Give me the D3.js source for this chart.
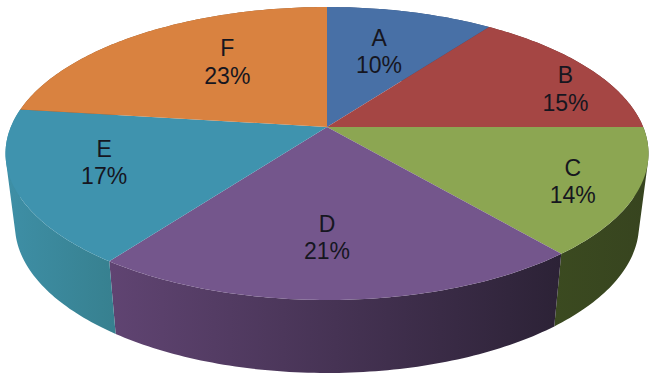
<!DOCTYPE html>
<html>
<head>
<meta charset="utf-8">
<script src="https://d3js.org/d3.v7.min.js"></script>
<style>
html, body { margin: 0; padding: 0; background: #fff; }
svg { display: block; }
text { font-family: "Liberation Sans", Arial, sans-serif; font-size: 23px; fill: #16161f; text-anchor: middle; }
</style>
</head>
<body>
<svg id="chart" width="651" height="377"></svg>
<script>
// chart values
var categories = ["A", "B", "C", "D", "E", "F"];
var shares = [10, 15, 14, 21, 17, 23];

// top face colours and the shaded side colours (left to right)
var topColors = ["#4870a6", "#a54644", "#8ca652", "#74568c", "#3f93ae", "#d98240"];
var wallColors = [
    ["#33507a", "#33507a"],
    ["#6e2f2d", "#6e2f2d"],
    ["#3b4a20", "#37441f"],
    ["#604472", "#2c2236"],
    ["#3e8fa6", "#37808f"],
    ["#8f5629", "#8f5629"]
];
// how far each label sits from the slice's centroid
var labelNudgeX = [-9, 52, 34, -8, -9, 34];
var labelNudgeY = [3, -1, 4, -9, -11.5, -3];

var svg = d3.select("#chart");

var pie = d3.pie().sort(null).value(function(d) { return d; });
var slices = pie(shares);

// the pie sits on a table seen in perspective, so the hub is above the ellipse middle
var hubV = -0.181, hubU = 0.0047;
var squash = Math.sqrt(1 - hubV * hubV);

var xTop = d3.scaleLinear().domain([-1, 1]).range([4, 647]);
var yTop = d3.scaleLinear().domain([-1, 1]).range([7, 300]);
var xBottom = d3.scaleLinear().domain([-1, 1]).range([13.5, 637.5]);
var yBottom = d3.scaleLinear().domain([-1, 1]).range([77, 373]);

function project(angle, r) {
    var px = Math.sin(angle) * r;
    var py = -Math.cos(angle) * r;
    var d = 1 + hubV * py;
    return [px * squash / d + hubU, (py + hubV) / d];
}

function rimPoints(s, xs, ys) {
    var pts = [];
    var n = Math.ceil((s.endAngle - s.startAngle) * 60);
    for (var i = 0; i <= n; i++) {
        var p = project(s.startAngle + (s.endAngle - s.startAngle) * i / n, 1);
        pts.push([xs(p[0]), ys(p[1])]);
    }
    return pts;
}

var line = d3.line();
var defs = svg.append("defs");

//side walls first, the top faces get painted over them
slices.forEach(function(s, i) {
    var upper = rimPoints(s, xTop, yTop);
    var lower = rimPoints(s, xBottom, yBottom);
    var xs = upper.concat(lower).map(function(p) { return p[0]; });
    var grad = defs.append("linearGradient")
        .attr("id", "wall" + i)
        .attr("gradientUnits", "userSpaceOnUse")
        .attr("x1", d3.min(xs)).attr("x2", d3.max(xs))
        .attr("y1", 0).attr("y2", 0);
    grad.append("stop").attr("offset", 0).attr("stop-color", wallColors[i][0]);
    grad.append("stop").attr("offset", 1).attr("stop-color", wallColors[i][1]);

    // the rims cross near the left and right extremes, so join them strip by strip
    // all strips wound the same way, otherwise the folds cancel out when filled
    var d = "";
    for (var k = 0; k < upper.length - 1; k++) {
        var quad = [upper[k], upper[k + 1], lower[k + 1], lower[k]];
        if (d3.polygonArea(quad) < 0) quad.reverse();
        d += line(quad) + "Z";
    }
    svg.append("path")
        .attr("d", d)
        .attr("fill", "url(#wall" + i + ")");
});

//top faces
slices.forEach(function(s, i) {
    var hub = project(0, 0);
    var pts = [[xTop(hub[0]), yTop(hub[1])]].concat(rimPoints(s, xTop, yTop));
    svg.append("path")
        .attr("d", line(pts) + "Z")
        .attr("fill", topColors[i]);
});

//labels
slices.forEach(function(s, i) {
    var c = project((s.startAngle + s.endAngle) / 2, 0.7);
    var x = xTop(c[0]) + labelNudgeX[i];
    var y = yTop(c[1]) + labelNudgeY[i];
    svg.append("text").attr("x", x).attr("y", y).text(categories[i]);
    svg.append("text").attr("x", x).attr("y", y + 27.5).text(shares[i] + "%");
});
</script>
</body>
</html>
